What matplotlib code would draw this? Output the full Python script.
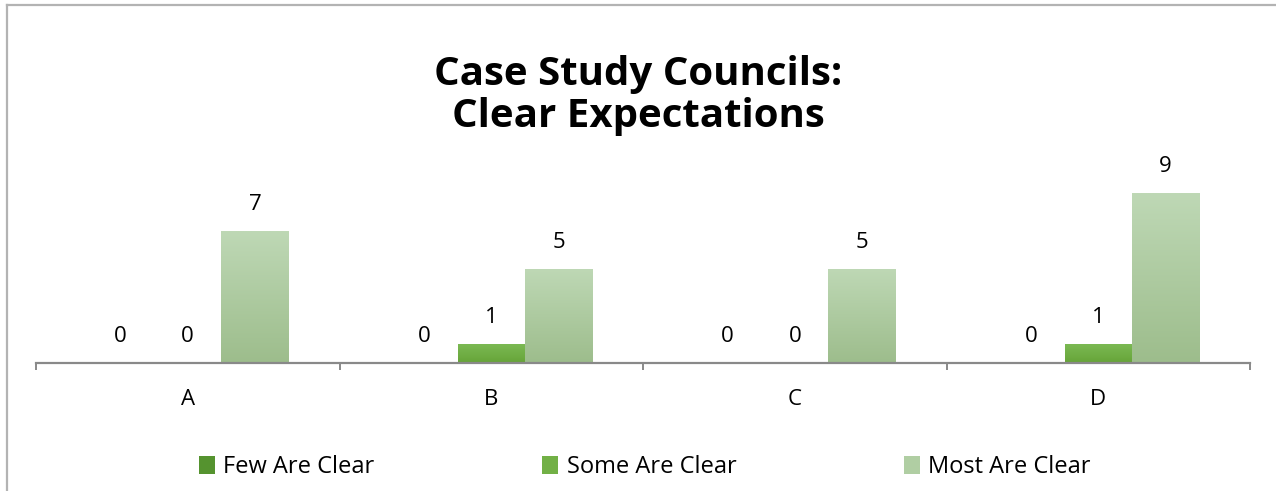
import numpy as np
import matplotlib.pyplot as plt
from matplotlib.colors import LinearSegmentedColormap
from matplotlib.lines import Line2D

# 데이터
categories = ['A', 'B', 'C', 'D']
series_names = ['Few Are Clear', 'Some Are Clear', 'Most Are Clear']
few_clear = [0, 0, 0, 0]
some_clear = [0, 1, 0, 1]
most_clear = [7, 5, 5, 9]
series_values = [few_clear, some_clear, most_clear]

# 그라데이션 색 (위, 중간, 아래)
grad_colors = [('#62a03b', '#55932f', '#4b812b'),
               ('#7bb953', '#72b046', '#66a438'),
               ('#bed8b5', '#b0cea3', '#9dbd8c')]

plt.rcParams['font.family'] = ['Open Sans', 'DejaVu Sans']

fig = plt.figure(figsize=(12.76, 4.91), dpi=100)
W, H = 1276, 491
ax = fig.add_axes([36 / W, (H - 363) / H, (1250 - 36) / W, (363 - 174.5) / H])

n = len(series_names)
gap = 1.5
bw = 1.0 / (n + gap)
x = np.arange(len(categories))

for i, (name, vals) in enumerate(zip(series_names, series_values)):
    offs = (i - (n - 1) / 2) * bw
    top, mid, bot = grad_colors[i]
    cmap = LinearSegmentedColormap.from_list(name, [bot, top])
    bars = ax.bar(x + offs, vals, width=bw, color=mid, label=name,
                  linewidth=0, zorder=2)
    for b, v in zip(bars, vals):
        if v > 0:
            grad = np.linspace(0, 1, 100).reshape(-1, 1)
            im = ax.imshow(grad, cmap=cmap, origin='lower', aspect='auto',
                           extent=[b.get_x(), b.get_x() + b.get_width(), 0, v], zorder=3)
            im.set_clip_path(b)
        ax.annotate(str(v), (b.get_x() + b.get_width() / 2, v), xytext=(0, 19),
                    textcoords='offset points', ha='center', va='center',
                    fontsize=16, color='black', annotation_clip=False)

ax.set_xlim(-0.5, len(categories) - 0.5)
ax.set_ylim(0, 10)
ax.set_yticks([])
for s in ['left', 'right', 'top']:
    ax.spines[s].set_visible(False)
ax.spines['bottom'].set_color('#898989')
ax.spines['bottom'].set_linewidth(1.6)
ax.spines['bottom'].set_zorder(4)

ax.set_xticks(x)
ax.set_xticklabels(categories, fontsize=16)
ax.tick_params(axis='x', which='major', length=0, pad=19)
ax.set_xticks(np.arange(len(categories) + 1) - 0.5, minor=True)
ax.tick_params(axis='x', which='minor', length=5, width=1.4, color='#898989', direction='out')

fig.text(0.5, (H - 95) / H, 'Case Study Councils:\nClear Expectations', ha='center', va='center',
         fontsize=29, fontweight='bold', linespacing=1.1)

leg = fig.legend(loc='center', bbox_to_anchor=(0.5 + 7 / W, (H - 467) / H), ncol=3, frameon=False,
                 fontsize=17, handlelength=0.68, handleheight=0.8, handletextpad=0.35,
                 columnspacing=7.1)

# 바깥 테두리
fig.add_artist(Line2D([7 / W, 7 / W], [0, (H - 5) / H], color='#b3b3b3', lw=1.6))
fig.add_artist(Line2D([7 / W, 1], [(H - 5) / H, (H - 5) / H], color='#b3b3b3', lw=1.6))

fig.savefig('out.png', dpi=100)
